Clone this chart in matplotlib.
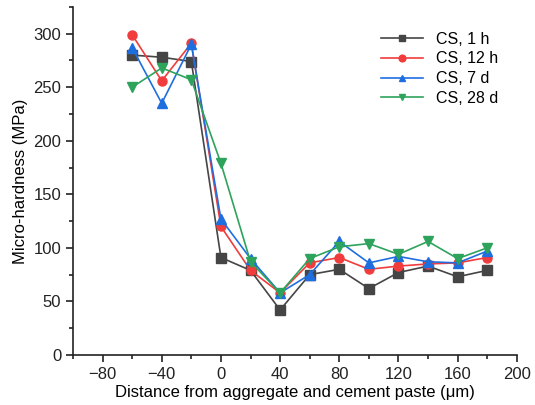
import matplotlib
matplotlib.use("Agg")
import matplotlib.pyplot as plt
from matplotlib.ticker import MultipleLocator

plt.rcParams["font.family"] = ["Liberation Sans", "DejaVu Sans"]

# ---------- Data ----------
distance = [-60, -40, -20, 0, 20, 40, 60, 80, 100, 120, 140, 160, 180]

cs_1h = [280, 278, 274, 91, 79, 42, 75, 80, 62, 77, 83, 73, 79]
cs_12h = [299, 256, 291, 120, 79, 58, 86, 91, 80, 83, 85, 86, 91]
cs_7d = [287, 235, 290, 127, 90, 58, 75, 106, 86, 92, 87, 86, 97]
cs_28d = [250, 268, 257, 179, 87, 58, 90, 101, 104, 94, 106, 90, 100]

series = [
    ("CS, 1 h", cs_1h, "#454545", "s"),
    ("CS, 12 h", cs_12h, "#f03c3c", "o"),
    ("CS, 7 d", cs_7d, "#1f6ee0", "^"),
    ("CS, 28 d", cs_28d, "#2ea35c", "v"),
]

# ---------- Figure ----------
fig = plt.figure(figsize=(5.35, 4.05), dpi=100)
ax = fig.add_axes([0.1364, 0.1235, 0.8296, 0.8595])

for label, values, color, marker in series:
    ax.plot(
        distance,
        values,
        color=color,
        marker=marker,
        markersize=6.5,
        linewidth=1.2,
        label=label,
    )

ax.set_xlim(-100, 200)
ax.set_ylim(0, 325)
ax.xaxis.set_minor_locator(MultipleLocator(20))
ax.yaxis.set_major_locator(MultipleLocator(50))
ax.yaxis.set_minor_locator(MultipleLocator(25))
ax.set_xticks([-80, -40, 0, 40, 80, 120, 160, 200])

ax.spines["top"].set_visible(False)
ax.spines["right"].set_visible(False)
for s in ("left", "bottom"):
    ax.spines[s].set_linewidth(1.2)
    ax.spines[s].set_color("#222222")

ax.tick_params(which="major", length=5, width=1.2, labelsize=12, colors="#222222")
ax.tick_params(which="minor", length=3, width=1.2, colors="#222222")

ax.set_xlabel("Distance from aggregate and cement paste (\u03bcm)", fontsize=12, labelpad=2)
ax.set_ylabel("Micro-hardness (MPa)", fontsize=12, labelpad=4)

ax.legend(
    loc="upper right",
    bbox_to_anchor=(0.99, 0.97),
    frameon=False,
    fontsize=11.5,
    handlelength=2.6,
    labelspacing=0.3,
    markerscale=0.75,
)

fig.savefig("out.png", dpi=100)
